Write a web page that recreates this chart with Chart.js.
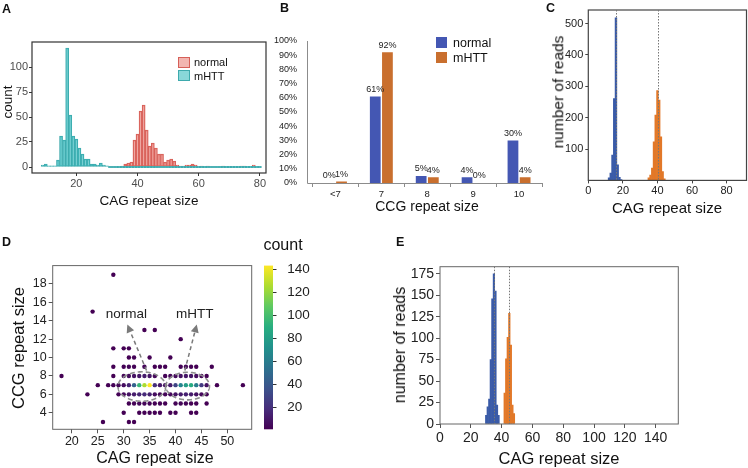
<!DOCTYPE html>
<html><head><meta charset="utf-8">
<script src="https://cdn.jsdelivr.net/npm/chart.js@4.4.1/dist/chart.umd.min.js"></script>
<style>
html,body{margin:0;padding:0;background:#fff;}
#wrap{position:relative;width:748px;height:468px;overflow:hidden;background:#fff;font-family:'Liberation Sans',Arial,Helvetica,sans-serif;color:#111;}
#wrap canvas{position:absolute;z-index:1;}
.t{position:absolute;z-index:2;white-space:nowrap;line-height:1;transform:translate(-50%,-50%);}
.r{transform:translate(-50%,-50%) rotate(-90deg);}
.p{position:absolute;z-index:2;font-weight:bold;font-size:12.5px;line-height:1;}
.lg{position:absolute;z-index:2;white-space:nowrap;line-height:1;transform:translateY(-50%);}
.sw{position:absolute;z-index:2;box-sizing:border-box;}
</style></head><body><div id="wrap">
<div class="p" style="left:2px;top:3px">A</div>
<div class="p" style="left:280px;top:2px">B</div>
<div class="p" style="left:546px;top:2px">C</div>
<div class="p" style="left:2px;top:236px">D</div>
<div class="p" style="left:396px;top:236px">E</div>

<div class="sw" style="left:178px;top:56.5px;width:12px;height:11px;background:rgba(232,120,112,0.55);border:1px solid #d65f58"></div>
<div class="lg" style="left:194px;top:62px;font-size:11px">normal</div>
<div class="sw" style="left:178px;top:70px;width:12px;height:11px;background:rgba(64,190,193,0.62);border:1px solid #3eaaad"></div>
<div class="lg" style="left:194px;top:75.5px;font-size:11px">mHTT</div>
<div class="t r" style="left:7.5px;top:102px;font-size:13.5px">count</div>
<div class="t" style="left:149px;top:201px;font-size:13.5px">CAG repeat size</div>

<div class="sw" style="left:436px;top:37px;width:11px;height:11px;background:#4457b3"></div>
<div class="lg" style="left:453px;top:43px;font-size:12.5px">normal</div>
<div class="sw" style="left:436px;top:52px;width:11px;height:11px;background:#c96f2e"></div>
<div class="lg" style="left:453px;top:58px;font-size:12.5px">mHTT</div>
<div class="t" style="left:427px;top:206px;font-size:14px">CCG repeat size</div>

<div class="t r" style="left:557.5px;top:92px;font-size:15.5px">number of reads</div>
<div class="t" style="left:667px;top:207px;font-size:15px">CAG repeat size</div>

<div class="t r" style="left:17.5px;top:348px;font-size:16.5px">CCG repeat size</div>
<div class="t" style="left:155px;top:457.5px;font-size:16px">CAG repeat size</div>
<div class="t" style="left:283px;top:245px;font-size:16px">count</div>

<div class="t r" style="left:400px;top:345px;font-size:16px">number of reads</div>
<div class="t" style="left:559px;top:457.5px;font-size:16.5px">CAG repeat size</div>
</div>
<script>
// ---------------- DATA ----------------
const aNormalSize  = [35,36,37,38,39,40,41,42,43,44,45,46,47,48,49,50,51,52,53,54,55,56,57,58,59,61,63,68,74,75,78];
const aNormalCount = [1,3,4,5,27,33,56,62,37,21,24,19,13,13,5,7,8,6,2,1,1,2,2,3,2,1,1,1,1,1,2];
const aMhttSize  = [9,10,11,12,13,14,15,16,17,18,19,20,21,22,23,24,25,26,27,28,29,30,31,32,33,34,35,36,37,38,39,40,41,42,43,44,45,46,47,48,49,50,51,52,53,54,55,56,57,58,59,60,61,62,63,64,65,66,67,68,69,70,71,72,73,74,75,76,77,78,79,80];
const aMhttCount = [2,3,1,1,1,7,31,27,119,52,31,28,19,13,8,8,3,3,2,4,2,1,0,0,0,0,0,0,0,0,0,0,0,0,0,0,0,0,0,0,0,0,0,0,0,0,0,0,0,0,0,0,0,0,0,0,0,0,0,0,0,0,0,0,0,0,0,0,0,0,0,0];
const aXTicks = [20,40,60,80];
const aYTicks = [0,25,50,75,100];

const bCategories = ['<7','7','8','9','10'];
const bNormal = [0,61,5,4,30];
const bMhtt   = [1,92,4,0,4];
const bYTicks = [0,10,20,30,40,50,60,70,80,90,100];

const cNormalSize  = [12,13,14,15,16,17,18,19];
const cNormalReads = [8,23,81,261,518,50,10,3];
const cMhttSize  = [35,36,37,38,39,40,41,42,43,44];
const cMhttReads = [8,17,39,123,208,286,256,139,28,5];
const cPeakLines = [16.3,40.3];
const cXTicks = [0,20,40,60,80];
const cYTicks = [100,200,300,400,500];

const dCag = [28, 24, 34,36, 41, 28,30,31, 31,32,35,39,
  28,30,31,32,34,36,37,38,41,42,43,44,47,
  18,28,30,31,32,33,34,35,36,38,39,40,41,42,43,44,45,46,
  25,27,28,29,30,31,32,33,34,35,36,37,38,39,40,41,42,43,44,45,46,48,53,
  23,29,30,31,32,33,34,35,36,37,38,39,40,41,42,43,44,45,46,
  31,32,33,34,35,36,37,38,40,41,42,43,44,46,
  30,33,34,35,36,37,39,40,43,44,
  26,31,32];
const dCcg = [19, 15, 13,13, 12, 11,11,11, 10,10,10,10,
  9,9,9,9,9,9,9,9,9,9,9,9,9,
  8,8,8,8,8,8,8,8,8,8,8,8,8,8,8,8,8,8,
  7,7,7,7,7,7,7,7,7,7,7,7,7,7,7,7,7,7,7,7,7,7,7,
  6,6,6,6,6,6,6,6,6,6,6,6,6,6,6,6,6,6,6,
  5,5,5,5,5,5,5,5,5,5,5,5,5,5,
  4,4,4,4,4,4,4,4,4,4,
  3,3,3];
const dCount = [1, 1, 1,1, 1, 1,1,1, 1,2,1,1,
  1,2,3,2,3,1,1,1,2,3,2,1,1,
  1,1,3,5,8,10,12,9,4,2,3,5,8,10,9,6,3,1,
  1,1,2,3,6,15,45,95,125,143,20,10,8,12,30,65,80,88,60,25,8,1,1,
  1,2,4,8,12,15,18,14,6,3,3,4,8,12,14,12,8,4,2,
  1,2,3,3,2,1,1,1,2,3,2,1,1,1,
  1,1,1,1,1,1,1,1,1,1,
  1,1,1];
const dXTicks = [20,25,30,35,40,45,50];
const dYTicks = [4,6,8,10,12,14,16,18];
const cbTicks = [20,40,60,80,100,120,140];

const eNormalSize  = [30,31,32,33,34,35,36,37,38];
const eNormalReads = [10,20,29,75,146,175,155,22,10];
const eMhttSize  = [42,43,44,45,46,47,48];
const eMhttReads = [36,76,101,129,92,22,12];
const ePeakLines = [35,45];
const eXTicks = [0,20,40,60,80,100,120,140];
const eYTicks = [0,25,50,75,100,125,150,175];

const dEllipses = [{cx:33.5,cy:6.85,rx:4.6,ry:1.6},{cx:42.35,cy:6.9,rx:4.2,ry:1.5}];
const dArrows = [{from:[34.4,8.6],to:[30.7,13.6],label:'normal',lx:30.5,ly:14.75},
                 {from:[41.8,8.6],to:[44.1,13.6],label:'mHTT',lx:43.7,ly:14.75}];

// ---------------- SETUP ----------------
const FONT = "'Liberation Sans', Arial, Helvetica, sans-serif";
Chart.defaults.font.family = FONT;
Chart.defaults.animation = false;
Chart.defaults.responsive = false;
Chart.defaults.devicePixelRatio = 1;
Chart.defaults.plugins.legend.display = false;
Chart.defaults.plugins.tooltip.enabled = false;

const wrap = document.getElementById('wrap');
function mk(l,t,w,h){const c=document.createElement('canvas');c.width=w;c.height=h;
  c.style.left=l+'px';c.style.top=t+'px';c.style.width=w+'px';c.style.height=h+'px';
  wrap.insertBefore(c,wrap.firstChild);return c;}
const fix = arr => s => { s.ticks = arr.map(v => ({value:v})); };
const xy = (xs, ys) => xs.map((x,i)=>({x, y:ys[i]}));

const framePlugin = {id:'frame', afterDatasetsDraw(chart,args,o){
  if(!o || !o.color) return; const {ctx,chartArea:a}=chart;
  ctx.save(); ctx.strokeStyle=o.color; ctx.lineWidth=o.width||1;
  ctx.strokeRect(a.left,a.top,a.right-a.left,a.bottom-a.top); ctx.restore();}};
const vlinePlugin = {id:'vlines', afterDatasetsDraw(chart,args,o){
  if(!o || !o.values) return; const {ctx,chartArea:a}=chart; const x=chart.scales.x;
  ctx.save(); ctx.strokeStyle=o.color||'#777'; ctx.lineWidth=1; ctx.setLineDash([1.5,1.5]);
  o.values.forEach(v=>{const p=Math.round(x.getPixelForValue(v))+0.5; ctx.beginPath(); ctx.moveTo(p,a.top); ctx.lineTo(p,a.bottom); ctx.stroke();});
  ctx.restore();}};
Chart.register(framePlugin, vlinePlugin);

const VIR = ['#440154','#472d7b','#3b528b','#2c728e','#21918c','#28ae80','#5ec962','#addc30','#fde725'];
function hex(h){return [parseInt(h.slice(1,3),16),parseInt(h.slice(3,5),16),parseInt(h.slice(5,7),16)];}
function viridis(t){t=Math.max(0,Math.min(1,t));const n=VIR.length-1;const i=Math.min(n-1,Math.floor(t*n));const f=t*n-i;
  const a=hex(VIR[i]),b=hex(VIR[i+1]);return 'rgb('+a.map((v,k)=>Math.round(v+(b[k]-v)*f)).join(',')+')';}
function gridCfg(color,len){return {display:true,drawOnChartArea:false,offset:false,drawTicks:true,tickLength:len,color:color};}

// ---------------- PANEL A ----------------
new Chart(mk(0,20,275,190),{type:'bar',
  data:{datasets:[
    {label:'mHTT',data:xy(aMhttSize,aMhttCount),backgroundColor:'rgba(64,190,193,0.62)',borderColor:'#3eaaad',borderWidth:0.8,minBarLength:1.2,order:1},
    {label:'normal',data:xy(aNormalSize,aNormalCount),backgroundColor:'rgba(232,120,112,0.55)',borderColor:'#d65f58',borderWidth:0.8,order:2}]},
  options:{layout:{padding:{top:22,right:9,left:0,bottom:0}},
    datasets:{bar:{grouped:false,barPercentage:1,categoryPercentage:1,borderSkipped:false}},
    scales:{
      x:{type:'linear',offset:false,min:5.5,max:82,afterBuildTicks:fix(aXTicks),afterFit:s=>{s.height=37;},
         grid:gridCfg('#333',3),border:{display:false},ticks:{font:{size:11},color:'#4d4d4d',padding:1,maxRotation:0,autoSkip:false}},
      y:{type:'linear',min:-6,max:125,afterBuildTicks:fix(aYTicks),afterFit:s=>{s.width=32;},
         grid:gridCfg('#333',3),border:{display:false},ticks:{font:{size:11},color:'#4d4d4d',padding:1}}},
    plugins:{frame:{color:'#333',width:1.2}}}});

// ---------------- PANEL B ----------------
const bLabels = {id:'bLabels', afterDatasetsDraw(chart){
  const {ctx,chartArea:a}=chart; ctx.save();
  ctx.font="9px "+FONT; ctx.fillStyle='#222'; ctx.textAlign='center'; ctx.textBaseline='bottom';
  chart.data.datasets.forEach((ds,di)=>{chart.getDatasetMeta(di).data.forEach((el,i)=>{ctx.fillText(ds.data[i]+'%',el.x,el.y-2.5);});});
  ctx.strokeStyle='#8c8c8c'; ctx.lineWidth=1; const b=Math.round(a.bottom)+0.5, l=Math.round(a.left-5.5)+0.5;
  ctx.beginPath(); ctx.moveTo(l,a.top); ctx.lineTo(l,b); ctx.lineTo(a.right,b); ctx.stroke(); ctx.restore();}};
new Chart(mk(270,20,280,200),{type:'bar',
  data:{labels:bCategories,datasets:[
    {label:'normal',data:bNormal,backgroundColor:'#4457b3'},
    {label:'mHTT',data:bMhtt,backgroundColor:'#c96f2e'}]},
  options:{layout:{padding:{top:21,right:8,left:0,bottom:0}},
    datasets:{bar:{categoryPercentage:0.53,barPercentage:0.885}},
    scales:{
      x:{afterFit:s=>{s.height=37;},grid:{display:true,drawOnChartArea:false,offset:true,tickLength:4,color:'#8c8c8c'},border:{display:false},
         ticks:{font:{size:9.5},color:'#222',padding:2}},
      y:{min:0,max:100,afterBuildTicks:fix(bYTicks),afterFit:s=>{s.width=42.5;},grid:{display:false},border:{display:false},
         ticks:{font:{size:9},color:'#222',padding:7.5,callback:v=>v+'%'}}}},
  plugins:[bLabels]});

// ---------------- PANEL C ----------------
new Chart(mk(540,0,208,215),{type:'bar',
  data:{datasets:[
    {label:'normal',data:xy(cNormalSize,cNormalReads),backgroundColor:'#3a5ba8'},
    {label:'mHTT',data:xy(cMhttSize,cMhttReads),backgroundColor:'#e27828'}]},
  options:{layout:{padding:{top:10,right:1.5,left:0,bottom:0}},
    datasets:{bar:{grouped:false,barPercentage:1,categoryPercentage:1}},
    scales:{
      x:{type:'linear',offset:false,min:0,max:91.5,afterBuildTicks:fix(cXTicks),afterFit:s=>{s.height=34.6;},
         grid:gridCfg('#444',3),border:{display:false},ticks:{font:{size:11},color:'#222',padding:1,maxRotation:0,autoSkip:false}},
      y:{type:'linear',min:0,max:543,afterBuildTicks:fix(cYTicks),afterFit:s=>{s.width=48.3;},
         grid:gridCfg('#444',3),border:{display:false},ticks:{font:{size:11},color:'#222',padding:2}}},
    plugins:{frame:{color:'#444',width:1.2},vlines:{values:cPeakLines,color:'#777'}}}});

// ---------------- PANEL D ----------------
const cbMin = Math.min(...dCount), cbMax = Math.max(...dCount);
const dAnno = {id:'dAnno', afterDatasetsDraw(chart){
  const ctx=chart.ctx, a=chart.chartArea, x=chart.scales.x, y=chart.scales.y, cb=chart.scales.cb;
  ctx.save();
  const x0=a.right+12.3, w=9, yT=cb.getPixelForValue(cbMax), yB=cb.getPixelForValue(cbMin);
  const g=ctx.createLinearGradient(0,yB,0,yT); VIR.forEach((c,i)=>g.addColorStop(i/(VIR.length-1),c));
  ctx.fillStyle=g; ctx.fillRect(x0,yT,w,yB-yT);
  ctx.strokeStyle='#333'; ctx.lineWidth=1;
  cbTicks.forEach(v=>{const p=Math.round(cb.getPixelForValue(v))+0.5; ctx.beginPath(); ctx.moveTo(x0+w,p); ctx.lineTo(x0+w+3.5,p); ctx.stroke();});
  ctx.restore();
  // ellipses: outer outline of their union
  const E=dEllipses.map(e=>({cx:x.getPixelForValue(e.cx),cy:y.getPixelForValue(e.cy),
     rx:Math.abs(x.getPixelForValue(e.cx+e.rx)-x.getPixelForValue(e.cx)),ry:Math.abs(y.getPixelForValue(e.cy+e.ry)-y.getPixelForValue(e.cy))}));
  const inside=(o,px,py)=>((px-o.cx)/o.rx)*((px-o.cx)/o.rx)+((py-o.cy)/o.ry)*((py-o.cy)/o.ry)<1;
  ctx.save();
  ctx.strokeStyle='#8f8f8f'; ctx.lineWidth=1.6; ctx.setLineDash([5,3]);
  E.forEach((e,i)=>{const others=E.filter((_,j)=>j!==i); ctx.beginPath(); let pen=false;
    for(let k=0;k<=360;k++){const t=k/360*Math.PI*2; const px=e.cx+e.rx*Math.cos(t), py=e.cy+e.ry*Math.sin(t);
      if(others.some(o=>inside(o,px,py))){pen=false;continue;}
      if(!pen){ctx.moveTo(px,py);pen=true;} else ctx.lineTo(px,py);}
    ctx.stroke();});
  ctx.restore();
  ctx.save();
  dArrows.forEach(ar=>{
    const sx=x.getPixelForValue(ar.from[0]), sy=y.getPixelForValue(ar.from[1]);
    const tx=x.getPixelForValue(ar.to[0]), ty=y.getPixelForValue(ar.to[1]);
    const L=Math.hypot(tx-sx,ty-sy), ux=(tx-sx)/L, uy=(ty-sy)/L, h=8, hw=4;
    ctx.strokeStyle='#7a7a7a'; ctx.lineWidth=1.5; ctx.setLineDash([4,3]);
    ctx.beginPath(); ctx.moveTo(sx,sy); ctx.lineTo(tx-ux*h,ty-uy*h); ctx.stroke();
    ctx.setLineDash([]); ctx.fillStyle='#7a7a7a'; ctx.beginPath(); ctx.moveTo(tx,ty);
    ctx.lineTo(tx-ux*h-uy*hw,ty-uy*h+ux*hw); ctx.lineTo(tx-ux*h+uy*hw,ty-uy*h-ux*hw); ctx.closePath(); ctx.fill();
    ctx.font="13.5px "+FONT; ctx.fillStyle='#222'; ctx.textAlign='center'; ctx.textBaseline='middle';
    ctx.fillText(ar.label,x.getPixelForValue(ar.lx),y.getPixelForValue(ar.ly));
  });
  ctx.restore();}};
new Chart(mk(0,230,320,238),{type:'scatter',
  data:{datasets:[{label:'count',data:xy(dCag,dCcg),
    pointBackgroundColor:dCount.map(c=>viridis((c-cbMin)/(cbMax-cbMin))),pointBorderWidth:0,pointRadius:2.2}]},
  options:{layout:{padding:{top:33.3,right:0,left:0,bottom:0}},
    scales:{
      x:{type:'linear',offset:false,min:16.3,max:54.7,afterBuildTicks:fix(dXTicks),afterFit:s=>{s.height=38.7;},
         grid:gridCfg('#555',4),border:{display:false},ticks:{font:{size:12.5},color:'#222',padding:1,maxRotation:0,autoSkip:false}},
      y:{type:'linear',min:2.2,max:20,afterBuildTicks:fix(dYTicks),afterFit:s=>{s.width=52.7;},
         grid:gridCfg('#555',4),border:{display:false},ticks:{font:{size:12.5},color:'#222',padding:2}},
      cb:{type:'linear',axis:'y',position:'right',min:cbMin,max:cbMax,afterBuildTicks:fix(cbTicks),afterFit:s=>{s.width=68.3;},
         grid:{display:false},border:{display:false},ticks:{font:{size:13.5},color:'#222',padding:27.5}}},
    plugins:{frame:{color:'#666',width:1}}},
  plugins:[dAnno]});

// ---------------- PANEL E ----------------
new Chart(mk(380,230,368,238),{type:'bar',
  data:{datasets:[
    {label:'normal',data:xy(eNormalSize,eNormalReads),backgroundColor:'#3a5ba8'},
    {label:'mHTT',data:xy(eMhttSize,eMhttReads),backgroundColor:'#e27828'}]},
  options:{layout:{padding:{top:36.7,right:69.7,left:0,bottom:0}},
    datasets:{bar:{grouped:false,barPercentage:1,categoryPercentage:1}},
    scales:{
      x:{type:'linear',offset:false,min:0,max:154.7,afterBuildTicks:fix(eXTicks),afterFit:s=>{s.height=44;},
         grid:gridCfg('#555',4),border:{display:false},ticks:{font:{size:14},color:'#222',padding:2,maxRotation:0,autoSkip:false}},
      y:{type:'linear',min:0,max:183.3,afterBuildTicks:fix(eYTicks),afterFit:s=>{s.width=60;},
         grid:gridCfg('#555',4),border:{display:false},ticks:{font:{size:14},color:'#222',padding:2}}},
    plugins:{frame:{color:'#666',width:1},vlines:{values:ePeakLines,color:'#777'}}}});
</script></body></html>
